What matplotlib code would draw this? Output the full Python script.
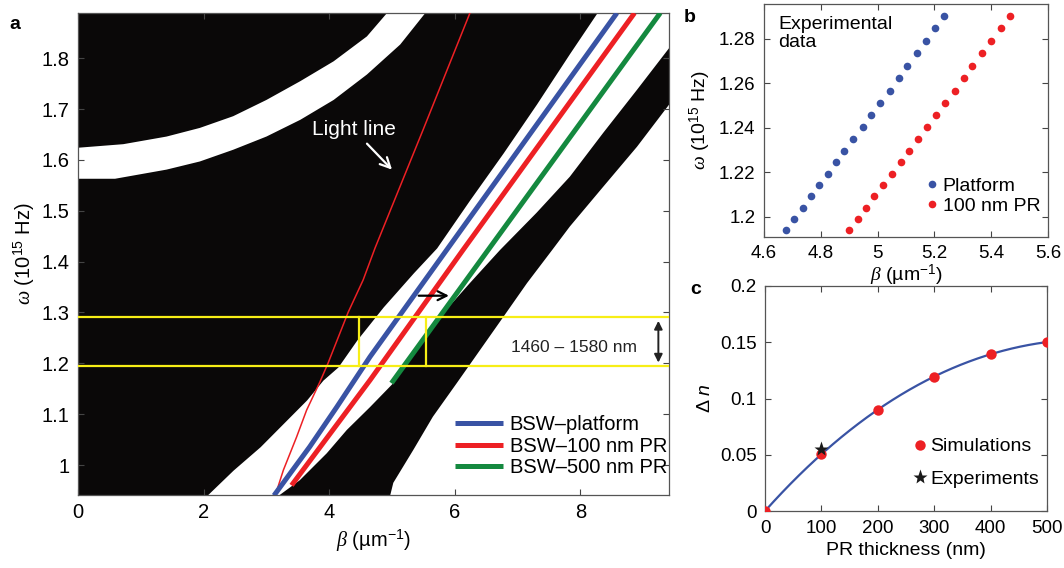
import numpy as np
import matplotlib
matplotlib.use('Agg')
import matplotlib.pyplot as plt
from matplotlib.ticker import FuncFormatter

plt.rcParams['font.family'] = ['Liberation Sans', 'DejaVu Sans']
plt.rcParams['mathtext.fontset'] = 'custom'
plt.rcParams['mathtext.rm'] = 'Liberation Sans'
plt.rcParams['mathtext.it'] = 'Liberation Serif:italic'
plt.rcParams['mathtext.sf'] = 'Liberation Sans:italic'

# ---- panel a: band diagram ----
# upper white band
ub_lo_x = [0, 0.59, 1.41, 1.94, 2.47, 3.0, 3.54, 4.07, 4.6, 5.13, 5.53]
ub_lo_y = [1.563, 1.563, 1.581, 1.597, 1.620, 1.646, 1.679, 1.718, 1.768, 1.827, 1.889]
ub_hi_x = [0, 0.72, 1.41, 1.94, 2.47, 3.0, 3.54, 4.07, 4.6, 4.92]
ub_hi_y = [1.624, 1.631, 1.646, 1.663, 1.686, 1.718, 1.755, 1.794, 1.843, 1.889]
# left edge of the white band holding the BSW lines
mb_left_x = [2.05, 2.47, 2.90, 3.27, 3.64, 3.9, 4.14, 4.44, 4.86, 5.34, 5.71, 6.24, 6.77, 7.30, 7.83, 8.26]
mb_left_y = [0.94, 0.99, 1.036, 1.082, 1.128, 1.167, 1.193, 1.246, 1.311, 1.378, 1.427, 1.522, 1.614, 1.71, 1.81, 1.889]
# right black band: left and right edges
rb_left_x = [3.2, 3.53, 3.96, 4.28, 4.65, 5.02, 5.34, 5.76, 6.24, 6.72, 7.30, 7.83, 8.36, 8.9, 9.43]
rb_left_y = [0.94, 0.97, 1.023, 1.069, 1.114, 1.161, 1.226, 1.291, 1.358, 1.423, 1.496, 1.567, 1.653, 1.738, 1.823]
rb_right_x = [4.97, 5.02, 5.34, 5.65, 6.03, 6.40, 6.77, 7.15, 7.55, 7.83, 8.36, 8.9, 9.43]
rb_right_y = [0.94, 0.965, 1.03, 1.095, 1.161, 1.226, 1.291, 1.358, 1.423, 1.469, 1.547, 1.626, 1.712]

light_x = [3.14, 3.27, 3.48, 3.64, 3.85, 3.98, 4.30, 4.54, 4.73, 5.49, 6.24]
light_y = [0.94, 0.99, 1.055, 1.108, 1.163, 1.2, 1.3, 1.364, 1.427, 1.658, 1.889]

bsw_plat_x = [3.12, 3.69, 4.12, 4.65, 5.87, 8.58]
bsw_plat_y = [0.94, 1.036, 1.114, 1.213, 1.423, 1.889]
bsw_100_x = [3.40, 4.65, 6.13, 8.86]
bsw_100_y = [0.96, 1.167, 1.423, 1.889]
bsw_500_x = [4.99, 6.53, 9.27]
bsw_500_y = [1.161, 1.423, 1.889]

w_hi, w_lo = 1.291, 1.194   # 1460 nm, 1580 nm
b_lo, b_hi = 4.48, 5.54

# ---- panel b: experimental data ----
exp_w = [1.1943, 1.1993, 1.2042, 1.2093, 1.2144, 1.2195, 1.2246, 1.2298, 1.2351, 1.2403,
         1.2458, 1.2511, 1.2566, 1.2622, 1.2677, 1.2734, 1.2791, 1.2846, 1.2903]
plat_b = [4.678, 4.707, 4.736, 4.766, 4.795, 4.824, 4.854, 4.883, 4.915, 4.947,
          4.978, 5.010, 5.042, 5.074, 5.105, 5.137, 5.170, 5.202, 5.235]
pr100_b = [4.900, 4.930, 4.960, 4.989, 5.020, 5.051, 5.082, 5.112, 5.143, 5.175,
           5.206, 5.238, 5.271, 5.303, 5.334, 5.367, 5.399, 5.433, 5.467]

# ---- panel c ----
thick = [0, 100, 200, 300, 400, 500]
dn_sim = [0, 0.051, 0.09, 0.119, 0.14, 0.15]
thick_exp = [100]
dn_exp = [0.055]

blue = '#3953a4'
red = '#ed2024'
green = '#14893f'
yellow = '#f7ee16'
dark = '#0a0808'
gfmt = FuncFormatter(lambda v, p: '%g' % round(v, 6))


def style(ax, fs):
    ax.tick_params(direction='in', top=True, right=True, length=4, width=0.8,
                   color='#444444', labelsize=fs, pad=6)
    for s in ax.spines.values():
        s.set_color('#555555')
        s.set_linewidth(0.9)
    ax.xaxis.set_major_formatter(gfmt)
    ax.yaxis.set_major_formatter(gfmt)


fig = plt.figure(figsize=(10.64, 5.68), dpi=100)

# panel a
ax = fig.add_axes([0.0733, 0.1285, 0.5555, 0.8486])
ax.set_facecolor(dark)
ax.fill_betweenx(mb_left_y, mb_left_x, 9.6, color='white', lw=0, zorder=1)
ax.fill(rb_left_x + rb_right_x[::-1], rb_left_y + rb_right_y[::-1], color=dark, lw=0, zorder=1)
ax.fill(ub_lo_x + ub_hi_x[::-1], ub_lo_y + ub_hi_y[::-1], color='white', lw=0, zorder=1)

ax.plot(light_x, light_y, color=red, lw=1.1, zorder=3)
l1, = ax.plot(bsw_plat_x, bsw_plat_y, color=blue, lw=3.6, zorder=3, solid_capstyle='butt')
l2, = ax.plot(bsw_100_x, bsw_100_y, color=red, lw=3.6, zorder=3, solid_capstyle='butt')
l3, = ax.plot(bsw_500_x, bsw_500_y, color=green, lw=3.6, zorder=3, solid_capstyle='butt')

ax.axhline(w_hi, color=yellow, lw=1.6, zorder=4)
ax.axhline(w_lo, color=yellow, lw=1.6, zorder=4)
ax.plot([b_lo, b_lo], [w_lo, w_hi], color=yellow, lw=1.6, zorder=4)
ax.plot([b_hi, b_hi], [w_lo, w_hi], color=yellow, lw=1.6, zorder=4)

ax.annotate('', xy=(5.95, 1.333), xytext=(5.38, 1.333),
            arrowprops=dict(arrowstyle='->', color='black', lw=1.6, mutation_scale=16), zorder=5)
ax.annotate('', xy=(9.24, w_lo + 0.002), xytext=(9.24, w_hi - 0.002),
            arrowprops=dict(arrowstyle='<|-|>', color='#222222', lw=1.4, mutation_scale=12), zorder=5)
ax.text(7.9, 1.232, '1460 – 1580 nm', fontsize=12.5, ha='center', va='center', color='#222222', zorder=5)
ax.text(4.4, 1.66, 'Light line', fontsize=15, color='white', ha='center', va='center', zorder=5)
ax.annotate('', xy=(5.03, 1.577), xytext=(4.57, 1.636),
            arrowprops=dict(arrowstyle='->', color='white', lw=1.6, mutation_scale=18), zorder=5)

leg = ax.legend([l1, l2, l3], ['BSW–platform', 'BSW–100 nm PR', 'BSW–500 nm PR'],
                loc='lower right', bbox_to_anchor=(1.01, 0.02), frameon=False, fontsize=14.5,
                handlelength=2.4, handletextpad=0.3, labelspacing=0.12, borderaxespad=0)
leg.set_zorder(6)

ax.set_xlim(0, 9.41)
ax.set_ylim(0.941, 1.889)
ax.set_xticks([0, 2, 4, 6, 8])
ax.set_yticks(np.arange(1.0, 1.81, 0.1))
style(ax, 14.5)
ax.set_xlabel(r'$\beta$ (µm$^{-1}$)', fontsize=14.5, labelpad=4)
ax.set_ylabel(r'$\omega$ (10$^{15}$ Hz)', fontsize=14.5, labelpad=3)

# panel b
bx = fig.add_axes([0.718, 0.5827, 0.267, 0.410])
bx.plot(plat_b, exp_w, 'o', color=blue, ms=5.5, mec='none', label='Platform')
bx.plot(pr100_b, exp_w, 'o', color=red, ms=5.5, mec='none', label='100 nm PR')
bx.set_xlim(4.6, 5.6)
bx.set_ylim(1.191, 1.2955)
bx.set_xticks(np.arange(4.6, 5.61, 0.2))
bx.set_yticks(np.arange(1.2, 1.281, 0.02))
style(bx, 13.5)
bx.set_xlabel(r'$\beta$ (µm$^{-1}$)', fontsize=14, labelpad=0)
bx.set_ylabel(r'$\omega$ (10$^{15}$ Hz)', fontsize=14, labelpad=4)
bx.text(0.05, 0.95, 'Experimental\ndata', transform=bx.transAxes, fontsize=14,
        va='top', ha='left', linespacing=1.1)
bx.legend(loc='lower right', bbox_to_anchor=(1.0, 0.06), frameon=False, fontsize=14,
          handlelength=0.6, handletextpad=0.25, labelspacing=0.15, borderaxespad=0)

# panel c
cx = fig.add_axes([0.719, 0.100, 0.265, 0.3965])
fit = np.polyfit(thick, dn_sim, 3)
tt = np.linspace(0, 500, 200)
cx.plot(tt, np.polyval(fit, tt), color=blue, lw=1.6, zorder=2)
cx.plot(thick, dn_sim, 'o', color=red, ms=7.5, mec='none', zorder=3, label='Simulations')
cx.plot(thick_exp, dn_exp, '*', color='#1a1a1a', ms=11, mec='none', zorder=4, label='Experiments')
cx.set_xlim(0, 500)
cx.set_ylim(0, 0.2)
cx.set_xticks(np.arange(0, 501, 100))
cx.set_yticks([0, 0.05, 0.1, 0.15, 0.2])
style(cx, 13.5)
cx.set_xlabel('PR thickness (nm)', fontsize=14, labelpad=4)
cx.set_ylabel(r'$\Delta\ \mathsf{n}$', fontsize=14, labelpad=4)
cx.legend(loc='lower right', bbox_to_anchor=(1.0, 0.07), frameon=False, fontsize=14,
          handlelength=0.8, handletextpad=0.15, labelspacing=0.75, borderaxespad=0, numpoints=1)

fig.text(0.009, 0.972, 'a', fontsize=14, fontweight='bold', va='top')
fig.text(0.643, 0.985, 'b', fontsize=14, fontweight='bold', va='top')
fig.text(0.649, 0.505, 'c', fontsize=14, fontweight='bold', va='top')

fig.savefig('out.png', dpi=100)
